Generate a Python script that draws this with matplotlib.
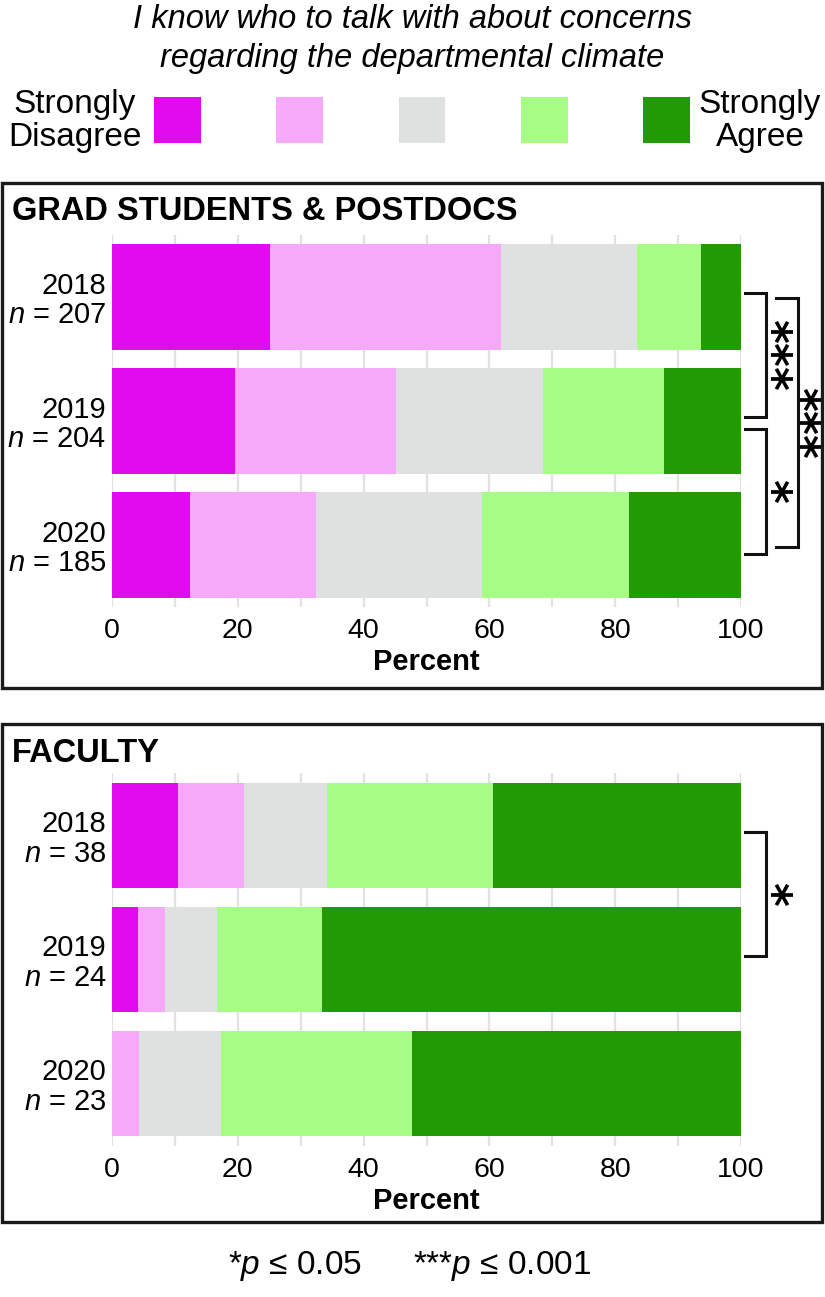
import numpy as np
import matplotlib
matplotlib.use("Agg")
import matplotlib.pyplot as plt
from matplotlib.patches import Rectangle

plt.rcParams['font.family'] = ['Liberation Sans', 'DejaVu Sans']
plt.rcParams['mathtext.fontset'] = 'custom'
plt.rcParams['mathtext.rm'] = 'Liberation Sans'
plt.rcParams['mathtext.it'] = 'Liberation Sans:italic'
plt.rcParams['mathtext.bf'] = 'Liberation Sans:bold'

# data (percent of respondents)
years = ["2018", "2019", "2020"]
grad_n = [207, 204, 185]
faculty_n = [38, 24, 23]
levels = ["Strongly Disagree", "Disagree", "Neutral", "Agree", "Strongly Agree"]
colors = ["#E00BEF", "#F6A9F8", "#DEE1DF", "#A7FC86", "#219A05"]

grad_pct = np.array([
    [25.1, 36.7, 21.7, 10.1, 6.4],
    [19.6, 25.5, 23.5, 19.1, 12.3],
    [12.4, 20.0, 26.5, 23.3, 17.8],
])
faculty_pct = np.array([
    [10.5, 10.5, 13.2, 26.3, 39.5],
    [4.2, 4.2, 8.3, 16.7, 66.6],
    [0.0, 4.3, 13.0, 30.4, 52.3],
])

# significance brackets: (row a, row b, offset a, offset b, stars, x tick, x line, x label)
grad_sig = [(0, 1, -0.03, -0.03, "***", 100.6, 104.0, 104.4),
            (1, 2, 0.065, 0.07, "*", 100.6, 104.0, 104.4),
            (0, 2, 0.01, 0.02, "***", 105.6, 109.1, 109.0)]
faculty_sig = [(0, 1, -0.03, -0.03, "*", 100.6, 104.0, 104.4)]

W, H = 825, 1297
fig = plt.figure(figsize=(W / 100, H / 100), dpi=100)


def fx(px):
    return px / W


def fy(px):
    return 1 - px / H


def panel(top_px, pct, ns, title, sig, box):
    # box around the panel
    fig.patches.append(Rectangle((fx(box[0]), fy(box[1] + box[3])), fx(box[2]), box[3] / H,
                                 transform=fig.transFigure, fill=False,
                                 edgecolor="#1a1a1a", linewidth=2.4))
    fig.text(fx(12), fy(box[1] + 29), title, fontsize=23.5, fontweight="bold",
             ha="left", va="center")

    ax = fig.add_axes([fx(112), fy(top_px + 372), fx(629), 372 / H])
    y = np.arange(len(years))
    left = np.zeros(len(years))
    for j in range(len(levels)):
        ax.barh(y, pct[:, j], left=left, height=0.85, color=colors[j],
                linewidth=0, zorder=2)
        left += pct[:, j]

    ax.set_xlim(0, 100)
    ax.set_ylim(2.5, -0.5)
    ax.set_xticks(np.arange(0, 101, 20))
    ax.set_xticks(np.arange(10, 100, 20), minor=True)
    ax.grid(axis="x", which="both", color="#E2E2E2", linewidth=1.6, zorder=0)
    ax.set_axisbelow(True)
    for s in ax.spines.values():
        s.set_visible(False)
    ax.tick_params(axis="x", which="both", length=0, pad=8, labelsize=20.5)
    ax.tick_params(axis="y", length=0, pad=4, labelsize=21)
    ax.set_yticks(y)
    ax.set_yticklabels(["%s\n$n$ = %d" % (yr, n) for yr, n in zip(years, ns)],
                       ha="right", linespacing=1.05)
    ax.set_xlabel("Percent", fontsize=21, fontweight="bold", labelpad=3)

    for a, b, oa, ob, stars, xt, xl, xs in sig:
        ya, yb = y[a] + oa, y[b] + ob
        ax.plot([xt, xl, xl, xt], [ya, ya, yb, yb], color="#111111",
                linewidth=2.2, clip_on=False, solid_joinstyle="miter")
        ax.text(xs, (ya + yb) / 2, stars, rotation=270, ha="center", va="center",
                fontsize=33, fontweight="bold", family="DejaVu Sans",
                clip_on=False)
    return ax


# title and legend
fig.text(0.5, fy(20), "I know who to talk with about concerns", fontsize=23.5,
         style="italic", ha="center", va="center")
fig.text(0.5, fy(58), "regarding the departmental climate", fontsize=23.5,
         style="italic", ha="center", va="center")

lax = fig.add_axes([fx(154), fy(143), fx(536), 46 / H])
lax.bar(np.arange(len(levels)), 1, width=0.384, color=colors, linewidth=0)
lax.set_xlim(-0.192, 4.192)
lax.set_ylim(0, 1)
lax.axis("off")
fig.text(fx(75), fy(121), "Strongly\nDisagree", fontsize=24, ha="center",
         va="center", linespacing=1.1)
fig.text(fx(760), fy(121), "Strongly\nAgree", fontsize=24, ha="center",
         va="center", linespacing=1.1)

panel(235, grad_pct, grad_n, "GRAD STUDENTS & POSTDOCS", grad_sig, (2, 183, 820, 505))
panel(773.5, faculty_pct, faculty_n, "FACULTY", faculty_sig, (2, 724, 820, 498))

fig.text(fx(228), fy(1266), "*$p$ \u2264 0.05", fontsize=24, ha="left", va="center")
fig.text(fx(413), fy(1266), "***$p$ \u2264 0.001", fontsize=24, ha="left", va="center")

fig.savefig("out.png", dpi=100)
